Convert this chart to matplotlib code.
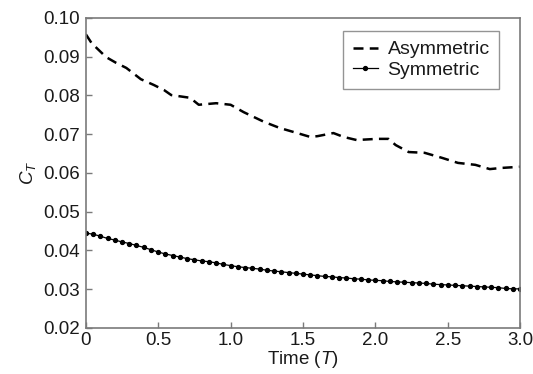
import numpy as np
import matplotlib
matplotlib.use('Agg')
import matplotlib.pyplot as plt

plt.rcParams['font.family'] = ['Liberation Sans', 'DejaVu Sans']
plt.rcParams['mathtext.fontset'] = 'custom'
plt.rcParams['mathtext.rm'] = 'Liberation Sans'
plt.rcParams['mathtext.it'] = 'Liberation Sans:italic'

# asymmetric case
asym_t = [0.00, 0.04, 0.14, 0.21, 0.28, 0.38, 0.47, 0.54, 0.59, 0.72, 0.78, 0.90,
          1.00, 1.09, 1.23, 1.34, 1.46, 1.55, 1.60, 1.71, 1.78, 1.87, 2.01, 2.09,
          2.14, 2.23, 2.34, 2.46, 2.57, 2.69, 2.79, 2.87, 3.00]
asym_ct = [0.0958, 0.0935, 0.0899, 0.0884, 0.0871, 0.0842, 0.0827, 0.0814, 0.0801,
           0.0794, 0.0776, 0.0780, 0.0776, 0.0757, 0.0732, 0.0716, 0.0703, 0.0693,
           0.0695, 0.0703, 0.0693, 0.0685, 0.0688, 0.0688, 0.0672, 0.0654, 0.0652,
           0.0639, 0.0626, 0.0621, 0.0610, 0.0613, 0.0616]

# symmetric case, one marker every 0.05 T
sym_t = np.arange(61) * 0.05
sym_ct = [0.0445, 0.0442, 0.0437, 0.0431, 0.0427, 0.0422, 0.0418, 0.0413, 0.0408,
          0.0402, 0.0396, 0.0391, 0.0387, 0.0383, 0.0379, 0.0376, 0.0373, 0.0371,
          0.0368, 0.0364, 0.0361, 0.0358, 0.0356, 0.0354, 0.0352, 0.0349, 0.0347,
          0.0345, 0.0343, 0.0341, 0.0339, 0.0337, 0.0335, 0.0333, 0.0332, 0.0330,
          0.0329, 0.0327, 0.0326, 0.0324, 0.0323, 0.0322, 0.0320, 0.0319, 0.0318,
          0.0317, 0.0316, 0.0315, 0.0313, 0.0312, 0.0311, 0.0310, 0.0309, 0.0308,
          0.0307, 0.0306, 0.0305, 0.0304, 0.0302, 0.0301, 0.0301]

xticks = [0, 0.5, 1.0, 1.5, 2.0, 2.5, 3.0]
xtick_labels = ['0', '0.5', '1.0', '1.5', '2.0', '2.5', '3.0']
yticks = [0.02, 0.03, 0.04, 0.05, 0.06, 0.07, 0.08, 0.09, 0.10]

text_col = '#1a1a1a'
spine_col = '#7a7a7a'
fs = 13.5

fig = plt.figure(figsize=(5.33, 3.74), dpi=100)
ax = fig.add_axes([0.161, 0.123, 0.815, 0.829])

ax.plot(asym_t, asym_ct, color='black', lw=1.8, ls=(0, (4.0, 2.5)), label='Asymmetric')
ax.plot(sym_t, sym_ct, color='black', lw=0.9, marker='o', ms=2.8, label='Symmetric')

ax.set_xlim(0, 3.0)
ax.set_ylim(0.02, 0.10)
ax.set_xticks(xticks)
ax.set_xticklabels(xtick_labels)
ax.set_yticks(yticks)
ax.set_yticklabels(['%.2f' % v for v in yticks])
ax.tick_params(direction='in', length=4, width=1, color=spine_col,
               labelsize=fs, labelcolor=text_col, pad=4)
ax.tick_params(axis='x', pad=3)
for s in ax.spines.values():
    s.set_color(spine_col)
    s.set_linewidth(1.2)

ax.set_xlabel('Time ($\\mathit{T}$)', fontsize=fs, color=text_col, labelpad=0)
ax.set_ylabel('$C_T$', fontsize=fs, color=text_col, labelpad=4)

leg = ax.legend(loc='upper right', bbox_to_anchor=(0.952, 0.958), fontsize=14,
                frameon=True, fancybox=False, handlelength=1.3, handletextpad=0.5,
                borderpad=0.5, labelspacing=0.15, borderaxespad=0)
leg.get_frame().set_edgecolor(spine_col)
leg.get_frame().set_linewidth(1.0)
for t in leg.get_texts():
    t.set_color(text_col)

fig.savefig('out.png', dpi=100)
